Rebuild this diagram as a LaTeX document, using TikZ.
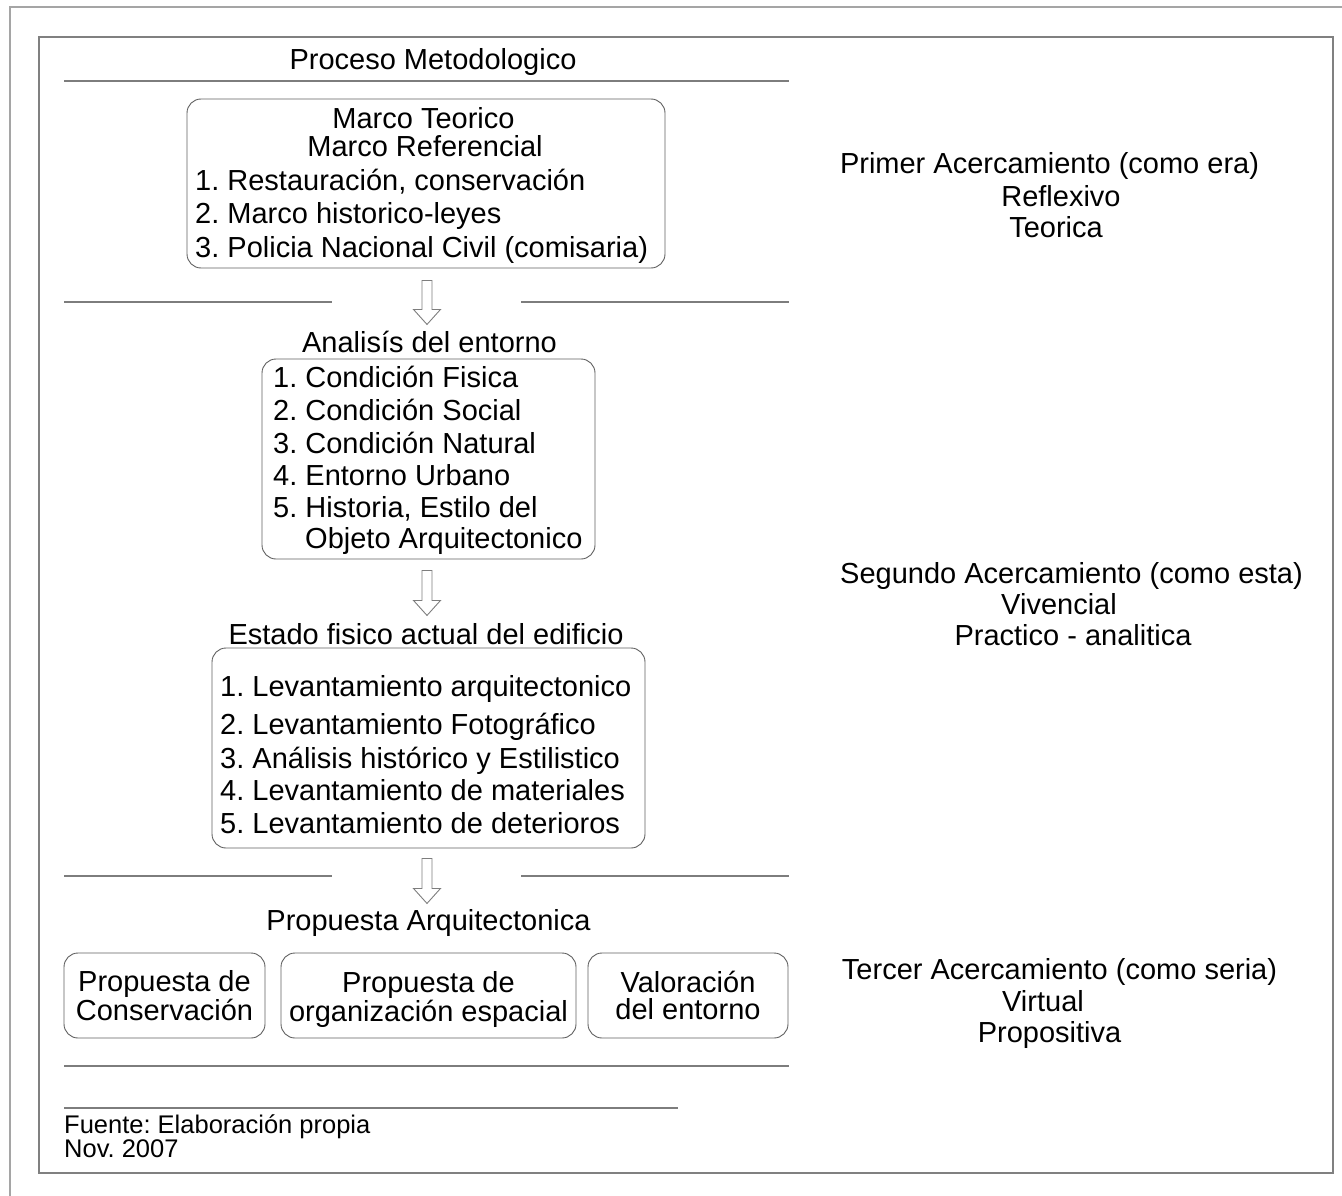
\documentclass[tikz,border=0pt]{standalone}
\usepackage{fontspec}
\setmainfont{Liberation Sans}
\usepackage{tikz}
\usetikzlibrary{calc}
\usetikzlibrary{positioning}
\frenchspacing

\definecolor{framegray}{RGB}{128,128,128}
\definecolor{lightframe}{RGB}{165,165,165}
\definecolor{linegray}{RGB}{125,125,125}
\definecolor{boxgray}{RGB}{95,95,95}

% hollow block arrow from #1 (top) to #2 (tip)
\newcommand{\blockarrow}[2]{%
  \draw[blockline] ($(#1)+(-5,0)$) -- ($(#2)+(-5,-15)$) -- ($(#2)+(-13.5,-15)$)
    -- (#2) -- ($(#2)+(13.5,-15)$) -- ($(#2)+(5,-15)$) -- ($(#1)+(5,0)$) -- cycle;}

\begin{document}
\begin{tikzpicture}[x=1pt,y=-1pt,
  every node/.style={font=\fontsize{29}{33}\selectfont, inner sep=0pt},
  txt/.style={anchor=base},
  item/.style={anchor=base west},
  rbox/.style={draw=boxgray, line width=0.9pt, rounded corners=14pt},
  sep/.style={draw=linegray, line width=1.4pt},
  blockline/.style={draw=linegray, line width=0.9pt, fill=white},
  small/.style={font=\fontsize{25.5}{23}\selectfont}]
\useasboundingbox (0,0) rectangle (1342,1196);
% Frames
\draw[lightframe, line width=1.6pt] (10,1196) -- (10,7) -- (1342,7);
\draw[framegray, line width=1.8pt] (39,37) rectangle (1333,1173);
%
% Separator Lines
\draw[sep] (64,81) -- (789,81);
\draw[sep] (64,302) -- (332,302);
\draw[sep] (521,302) -- (789,302);
\draw[sep] (64,876) -- (332,876);
\draw[sep] (521,876) -- (789,876);
\draw[sep] (64,1066) -- (789,1066);
\draw[sep] (64,1108) -- (678,1108);
%
% Titles
\node[txt] (proceso) at (433,70) {Proceso Metodologico};
\node[txt] (entorno) at (429.5,352) {Analisís del entorno};
\node[txt] (estado) at (426,644) {Estado fisico actual del edificio};
\node[txt] (propuesta) at (428.5,930) {Propuesta Arquitectonica};
%
% Marco Teorico
\node[rbox, minimum width=478pt, minimum height=169pt] (box1) at (426,183.5) {};
\node[txt] (marco1) at (423.5,129) {Marco Teorico};
\node[txt] (marco2) at (425,157) {Marco Referencial};
\foreach \y/\txt [count=\i] in {190/{1. Restauración, conservación},
    223/{2. Marco historico-leyes}, 257/{3. Policia Nacional Civil (comisaria)}}
  \node[item] (mr\i) at (195,\y) {\txt};
%
% Analisis del entorno
\node[rbox, minimum width=333pt, minimum height=200pt] (box2) at (428.5,459) {};
\foreach \x/\y/\txt [count=\i] in {273/387/{1. Condición Fisica},
    273/420/{2. Condición Social}, 273/453/{3. Condición Natural},
    273/485/{4. Entorno Urbano}, 273/517/{5. Historia, Estilo del},
    305/548/{Objeto Arquitectonico}}
  \node[item] (ae\i) at (\x,\y) {\txt};
%
% Estado fisico
\node[rbox, minimum width=433pt, minimum height=200pt] (box3) at (428.5,748) {};
\foreach \y/\txt [count=\i] in {696/{1. Levantamiento arquitectonico},
    734/{2. Levantamiento Fotográfico}, 768/{3. Análisis histórico y Estilistico},
    800/{4. Levantamiento de materiales}, 833/{5. Levantamiento de deterioros}}
  \node[item] (ef\i) at (220,\y) {\txt};
%
% Propuestas
\node[rbox, minimum width=201pt, minimum height=85pt, align=center,
  font=\fontsize{29}{27}\selectfont] (box4) at (164.5,995.5) {Propuesta de\\Conservación};
\node[rbox, minimum width=295pt, minimum height=85pt, align=center,
  font=\fontsize{29}{25}\selectfont] (box5) at (428.5,995.5)
  {\rule{0pt}{29pt}Propuesta de\\organización espacial};
\node[rbox, minimum width=200pt, minimum height=85pt, align=center,
  font=\fontsize{29}{27}\selectfont] (box6) at (688,995.5) {Valoración\\del entorno};
%
% Block Arrows
\coordinate (a1s) at ($(box1.south)+(1,12)$);
\coordinate (a1e) at ($(box1.south)+(1,56)$);
\coordinate (a2s) at ($(box2.south)+(-1.5,11)$);
\coordinate (a2e) at ($(box2.south)+(-1.5,56)$);
\coordinate (a3s) at ($(box3.south)+(-1.5,10)$);
\coordinate (a3e) at ($(box3.south)+(-1.5,55)$);
\blockarrow{a1s}{a1e}
\blockarrow{a2s}{a2e}
\blockarrow{a3s}{a3e}
%
% Acercamientos
\node[txt] (ac1a) at (1049.5,174) {Primer Acercamiento (como era)};
\node[txt] (ac1b) at (1061,206) {Reflexivo};
\node[txt] (ac1c) at (1056,237) {Teorica};
\node[txt] (ac2a) at (1071.5,583) {Segundo Acercamiento (como esta)};
\node[txt] (ac2b) at (1059,614) {Vivencial};
\node[txt] (ac2c) at (1073,645) {Practico - analitica};
\node[txt] (ac3a) at (1059.5,979) {Tercer Acercamiento (como seria)};
\node[txt] (ac3b) at (1043,1011) {Virtual};
\node[txt] (ac3c) at (1049.5,1042) {Propositiva};
%
% Fuente
\node[item, small] (fuente) at (64,1133) {Fuente: Elaboración propia};
\node[item, small] (fecha) at (64,1157) {Nov. 2007};
\end{tikzpicture}
\end{document}
